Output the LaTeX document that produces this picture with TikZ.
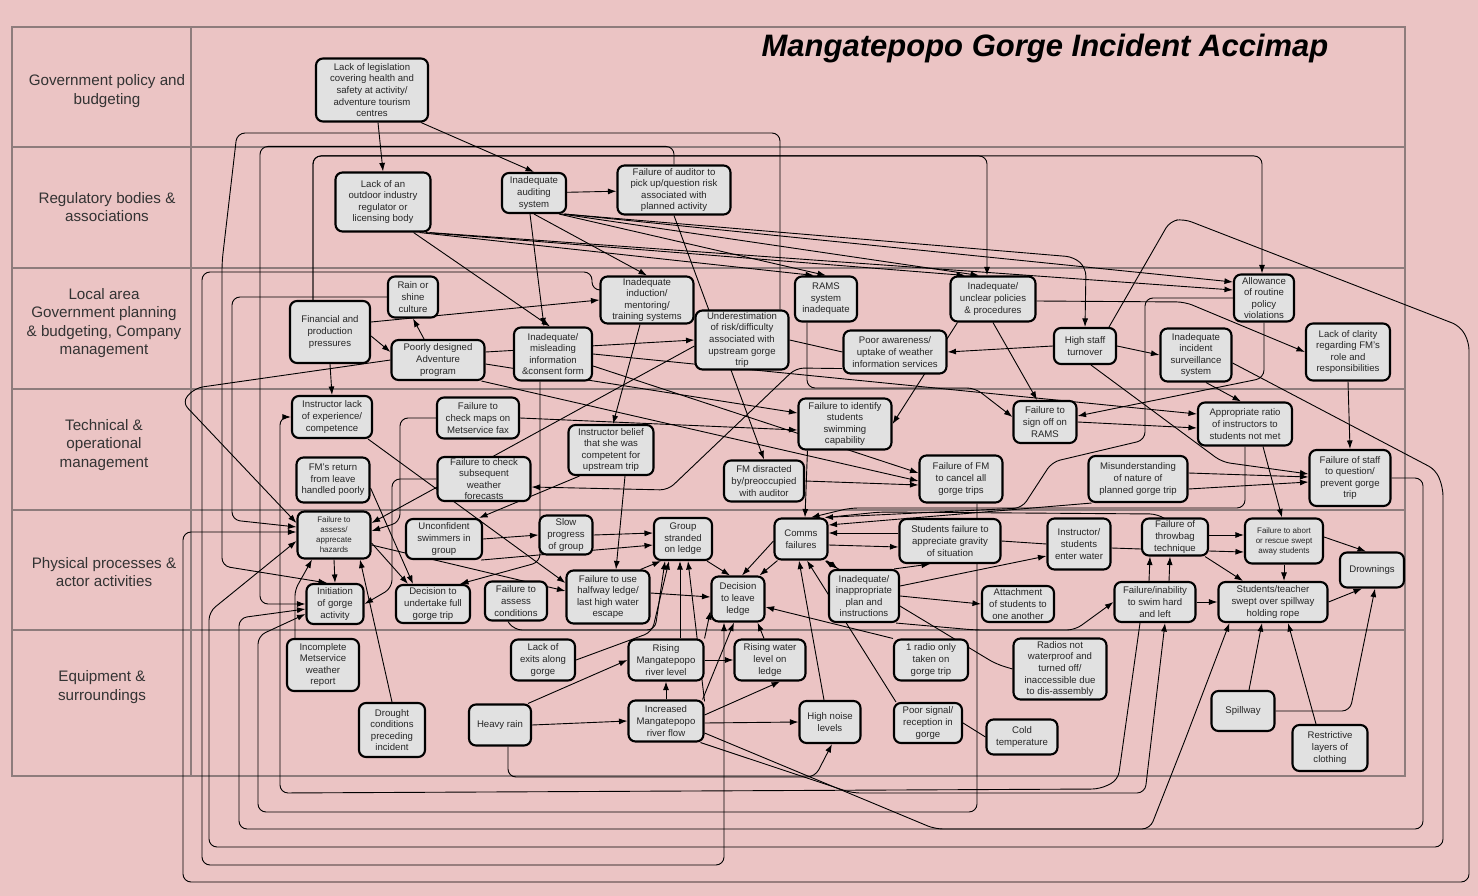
\documentclass[tikz,border=0pt]{standalone}
\usepackage{fontspec}
\setmainfont{Liberation Sans}
\usetikzlibrary{arrows.meta,calc}
\definecolor{cPage}{HTML}{EBC4C4}
\definecolor{cGrid}{HTML}{8E7C7C}
\definecolor{cBox}{HTML}{E1E1E1}
\pgfdeclarelayer{paper}
\pgfdeclarelayer{wires}
\pgfsetlayers{paper,wires,main}

\begin{document}
\begin{tikzpicture}[
    x=1pt, y=-1pt,
    font=\fontsize{9.6}{11.6}\selectfont,
    >={Latex[length=8.5pt,width=6pt]},
    every node/.style={align=center},
    box/.style={draw, line width=2.1pt, rounded corners=7pt, fill=cBox,
                inner sep=1pt, text=black!85},
    lane/.style={font=\fontsize{15.2}{18.3}\selectfont, text=black!80},
    link/.style={->, line width=0.9pt},
    wire/.style={line width=0.9pt},
]
\useasboundingbox (0,0) rectangle (1478,896);

% ---- paper and swim lanes ----
\begin{pgfonlayer}{paper}
\fill[cPage] (0,0) rectangle (1478,896);
\draw[cGrid, line width=1.8pt] (12,27) rectangle (1405,776);
\draw[cGrid, line width=1.8pt] (191,27) -- (191,776);
\foreach \y in {147,268,389,510,630}{
  \draw[cGrid, line width=1.8pt] (12,\y) -- (1405,\y);
}
\end{pgfonlayer}

\node[font=\bfseries\itshape\fontsize{31}{36}\selectfont] (title) at (1045,48)
      {Mangatepopo Gorge Incident Accimap};

\node[lane] (lane1) at (107,91) {Government policy and\\budgeting};
\node[lane] (lane2) at (107,207) {Regulatory bodies \&\\associations};
\node[lane] (lane3) at (104,323) {Local area\\Government planning\\\& budgeting, Company\\management};
\node[lane] (lane4) at (104,445) {Technical \&\\operational\\management};
\node[lane] (lane5) at (104,572) {Physical processes \&\\actor activities};
\node[lane] (lane6) at (102,687) {Equipment \&\\surroundings};

% ---- government and regulators ----
\node[box, minimum width=112pt, minimum height=63pt] (leg) at (372,90)
      {Lack of legislation\\covering health and\\safety at activity/\\adventure tourism\\centres};
\node[box, minimum width=95pt, minimum height=59pt] (reg) at (383,202)
      {Lack of an\\outdoor industry\\regulator or\\licensing body};
\node[box, minimum width=64pt, minimum height=40pt] (aud) at (534,193)
      {Inadequate\\auditing\\system};
\node[box, minimum width=113pt, minimum height=49pt] (audf) at (674,190)
      {Failure of auditor to\\pick up/question risk\\associated with\\planned activity};

% ---- local area / company ----
\node[box, minimum width=80pt, minimum height=62pt] (fin) at (330,332)
      {Financial and\\production\\pressures};
\node[box, minimum width=50pt, minimum height=41pt] (rainc) at (413,297)
      {Rain or\\shine\\culture};
\node[box, minimum width=93pt, minimum height=40pt] (poor) at (438,360)
      {Poorly designed\\Adventure\\program};
\node[box, minimum width=93pt, minimum height=47pt] (ind) at (647,300)
      {Inadequate\\induction/\\mentoring/\\training systems};
\node[box, minimum width=78pt, minimum height=53pt] (misl) at (553,354)
      {Inadequate/\\misleading\\information\\\&consent form};
\node[box, minimum width=93pt, minimum height=59pt] (under) at (742,340)
      {Underestimation\\of risk/difficulty\\associated with\\upstream gorge\\trip};
\node[box, minimum width=62pt, minimum height=45pt] (rams) at (826,299)
      {RAMS\\system\\inadequate};
\node[box, minimum width=103pt, minimum height=43pt] (weath) at (895,352)
      {Poor awareness/\\uptake of weather\\information services};
\node[box, minimum width=85pt, minimum height=45pt] (pol) at (993,299)
      {Inadequate/\\unclear policies\\\& procedures};
\node[box, minimum width=62pt, minimum height=36pt] (staff) at (1085,346)
      {High staff\\turnover};
\node[box, minimum width=71pt, minimum height=53pt] (surv) at (1196,355)
      {Inadequate\\incident\\surveillance\\system};
\node[box, minimum width=60pt, minimum height=47pt] (allow) at (1264,298)
      {Allowance\\of routine\\policy\\violations};
\node[box, minimum width=84pt, minimum height=57pt] (clar) at (1348,352)
      {Lack of clarity\\regarding FM's\\role and\\responsibilities};

% ---- technical / operational ----
\node[box, minimum width=80pt, minimum height=42pt] (exp) at (332,417)
      {Instructor lack\\of experience/\\competence};
\node[box, minimum width=82pt, minimum height=41pt] (maps) at (478,418)
      {Failure to\\check maps on\\Metservice fax};
\node[box, minimum width=85pt, minimum height=50pt] (belief) at (611,450)
      {Instructor belief\\that she was\\competent for\\upstream trip};
\node[box, minimum width=93pt, minimum height=51pt] (swim) at (845,424)
      {Failure to identify\\students\\swimming\\capability};
\node[box, minimum width=63pt, minimum height=42pt] (sign) at (1045,422)
      {Failure to\\sign off on\\RAMS};
\node[box, minimum width=94pt, minimum height=43pt] (ratio) at (1245,424)
      {Appropriate ratio\\of instructors to\\students not met};
\node[box, minimum width=73pt, minimum height=45pt] (fmret) at (333,480)
      {FM's return\\from leave\\handled poorly};
\node[box, minimum width=93pt, minimum height=44pt] (subs) at (484,479)
      {Failure to check\\subsequent\\weather\\forecasts};
\node[box, minimum width=80pt, minimum height=41pt] (fmdis) at (764,481)
      {FM disracted\\by/preoccupied\\with auditor};
\node[box, minimum width=83pt, minimum height=47pt] (fmcan) at (961,479)
      {Failure of FM\\to cancel all\\gorge trips};
\node[box, minimum width=99pt, minimum height=46pt] (misu) at (1138,479)
      {Misunderstanding\\of nature of\\planned gorge trip};
\node[box, minimum width=81pt, minimum height=56pt] (quest) at (1350,478)
      {Failure of staff\\to question/\\prevent gorge\\trip};

% ---- physical processes ----
\node[box, minimum width=73pt, minimum height=47pt,
      font=\fontsize{8}{10}\selectfont] (assess) at (334,535)
      {Failure to\\assess/\\apprecate\\hazards};
\node[box, minimum width=76pt, minimum height=40pt] (uncon) at (444,539)
      {Unconfident\\swimmers in\\group};
\node[box, minimum width=53pt, minimum height=39pt] (slow) at (566,535)
      {Slow\\progress\\of group};
\node[box, minimum width=58pt, minimum height=42pt] (strand) at (683,539)
      {Group\\stranded\\on ledge};
\node[box, minimum width=53pt, minimum height=41pt] (comms) at (801,539)
      {Comms\\failures};
\node[box, minimum width=101pt, minimum height=44pt] (grav) at (950,541)
      {Students failure to\\appreciate gravity\\of situation};
\node[box, minimum width=63pt, minimum height=51pt] (enter) at (1079,544)
      {Instructor/\\students\\enter water};
\node[box, minimum width=66pt, minimum height=37pt] (throw) at (1175,537)
      {Failure of\\throwbag\\technique};
\node[box, minimum width=78pt, minimum height=45pt,
      font=\fontsize{8}{10}\selectfont] (abort) at (1284,541)
      {Failure to abort\\or rescue swept\\away students};
\node[box, minimum width=64pt, minimum height=35pt] (drown) at (1372,570)
      {Drownings};
\node[box, minimum width=57pt, minimum height=40pt] (init) at (335,604)
      {Initiation\\of gorge\\activity};
\node[box, minimum width=74pt, minimum height=38pt] (dec) at (433,604)
      {Decision to\\undertake full\\gorge trip};
\node[box, minimum width=62pt, minimum height=39pt] (fassc) at (516,601)
      {Failure to\\assess\\conditions};
\node[box, minimum width=83pt, minimum height=53pt] (half) at (608,597)
      {Failure to use\\halfway ledge/\\last high water\\escape};
\node[box, minimum width=53pt, minimum height=45pt] (leave) at (738,599)
      {Decision\\to leave\\ledge};
\node[box, minimum width=70pt, minimum height=52pt] (plan) at (864,596)
      {Inadequate/\\inappropriate\\plan and\\instructions};
\node[box, minimum width=72pt, minimum height=36pt] (attach) at (1018,604)
      {Attachment\\of students to\\one another};
\node[box, minimum width=81pt, minimum height=40pt] (fswim) at (1155,602)
      {Failure/inability\\to swim hard\\and left};
\node[box, minimum width=109pt, minimum height=40pt] (swept) at (1273,602)
      {Students/teacher\\swept over spillway\\holding rope};

% ---- equipment and surroundings ----
\node[box, minimum width=72pt, minimum height=52pt] (incmet) at (323,665)
      {Incomplete\\Metservice\\weather\\report};
\node[box, minimum width=64pt, minimum height=41pt] (exits) at (543,660)
      {Lack of\\exits along\\gorge};
\node[box, minimum width=75pt, minimum height=41pt] (river) at (666,660)
      {Rising\\Mangatepopo\\river level};
\node[box, minimum width=71pt, minimum height=41pt] (wlevel) at (770,660)
      {Rising water\\level on\\ledge};
\node[box, minimum width=74pt, minimum height=41pt] (radio) at (931,660)
      {1 radio only\\taken on\\gorge trip};
\node[box, minimum width=93pt, minimum height=61pt] (radios) at (1060,669)
      {Radios not\\waterproof and\\turned off/\\inaccessible due\\to dis-assembly};
\node[box, minimum width=66pt, minimum height=54pt] (drought) at (392,730)
      {Drought\\conditions\\preceding\\incident};
\node[box, minimum width=62pt, minimum height=41pt] (hrain) at (500,725)
      {Heavy rain};
\node[box, minimum width=75pt, minimum height=41pt] (flow) at (666,721)
      {Increased\\Mangatepopo\\river flow};
\node[box, minimum width=61pt, minimum height=42pt] (noise) at (830,722)
      {High noise\\levels};
\node[box, minimum width=68pt, minimum height=40pt] (signal) at (928,723)
      {Poor signal/\\reception in\\gorge};
\node[box, minimum width=71pt, minimum height=35pt] (cold) at (1022,737)
      {Cold\\temperature};
\node[box, minimum width=63pt, minimum height=40pt] (spill) at (1243,711)
      {Spillway};
\node[box, minimum width=75pt, minimum height=46pt] (cloth) at (1330,748)
      {Restrictive\\layers of\\clothing};

\begin{pgfonlayer}{wires}
% ---- arrows: government and regulators ----
\draw[link] ($(leg.south)+(6,0)$) -- (reg.north);
\draw[link] ($(leg.south east)+(-8,0)$) -- (aud.north);
\draw[link] (aud) -- (audf);
\draw[link] ($(reg.south east)+(-18,0)$) -- ($(misl.north)+(-3,0)$);
\draw[link] ($(reg.south east)+(-12,0)$) -- ($(rams.north)+(-12,0)$);
\draw[link] ($(reg.south east)+(-6,0)$) -- ($(pol.north)+(-28,0)$);
\draw[link] ($(reg.south east)+(-2,0)$) -- ($(allow.west)+(0,-8)$);
\draw[link] ($(aud.south)+(-4,0)$) -- ($(misl.north)+(-9,0)$);
\draw[link] (aud.south) -- (ind.north);
\draw[link] ($(aud.south east)+(-8,0)$) -- (rams.north);
\draw[link] ($(aud.south east)+(-5,0)$) -- ($(pol.north)+(-14,0)$);
\draw[link] ($(aud.south east)+(-2,0)$) -- ($(allow.west)+(0,-16)$);
\draw[link, rounded corners=8pt] ($(aud.south east)+(-3,0)$) -- (1074,257) -- (1086,268) -- (staff.north);
\draw[link, rounded corners=8pt] ($(fin.north)+(-17,0)$) -- ++(0,-144) -| ($(pol.north)+(-6,0)$);
\draw[link, rounded corners=8pt] ($(fin.north)+(-17,0)$) -- ++(0,-144) -| ($(allow.north)+(-2,0)$);
\draw[link, rounded corners=8pt] (audf.north) -- ++(0,-18) -| (260,604) -- (init.west);
\draw[link, rounded corners=8pt] ($(under.north)+(38,0)$) |- (237,133) -- (222,262) -- (222,566) -- ($(init.north)+(-8,0)$);

% ---- arrows: long loops round the lanes ----
\draw[link, rounded corners=8pt] ($(ind.west)+(0,-10)$) -- (592,290) |- (202,272) -- (202,865) -| ($(leave.south)+(-14,0)$);
\draw[link, rounded corners=8pt] ($(staff.north east)+(-8,0)$) -- (1170,221) -- (1184,219) -- (1460,326) -- (1469,342) -- (1469,882) -| (183,532) -- ($(assess.west)+(0,-3)$);
\draw[link, rounded corners=8pt] ($(surv.east)+(0,8)$) -- (1436,470) -- (1443,488) -- (1443,847) -| (209,612) -- ($(assess.west)+(0,6)$);
\draw[link, rounded corners=8pt] (quest.east) -| (1423,829) -| (239,618) -- ($(init.west)+(0,5)$);
\draw[link, rounded corners=8pt] ($(fmcan.south)+(16,0)$) |- (258,812) -- (258,636) -- ($(init.west)+(0,10)$);
\draw[link, rounded corners=8pt] ($(fswim.south)+(-15,0)$) -- (1118,780) -- (1100,789) -- (280,793) |- (exp.west);
\draw[link, rounded corners=8pt] ($(flow.south east)+(-4,0)$) -- (852,793) -- (1145,793) -- ($(fswim.south)+(10,0)$);
\draw[link, rounded corners=8pt] ($(flow.east)+(0,12)$) -- (935,829) -- (1150,829) -- (1185,740) -- ($(swept.south west)+(12,0)$);
\draw[link, rounded corners=8pt] (rainc.west) -| (232,520) -- ($(assess.west)+(0,-8)$);
\draw[link, rounded corners=8pt] (poor.west) -- (195,388) -- (182,402) -- ($(assess.west)+(0,-12)$);
\draw[link, rounded corners=8pt] (maps.west) -| (400,522) -- ($(assess.east)+(0,-4)$);
\draw[link, rounded corners=8pt] (subs.west) -| (392,588) -- (init.east);

% ---- arrows: local area ----
\draw[link] ($(fin.east)+(0,-10)$) -- (ind.west);
\draw[link] ($(fin.east)+(0,4)$) -- ($(poor.west)+(0,-8)$);
\draw[link] ($(poor.north)+(-14,0)$) -- (rainc.south);
\draw[link] ($(poor.east)+(0,-8)$) -- (under.west);
\draw[link] ($(poor.east)+(0,4)$) -- ($(swim.west)+(0,-11)$);
\draw[link] ($(poor.south east)+(-4,0)$) -- ($(fmcan.west)+(0,2)$);
\draw[link] (misl.east) -- ($(ratio.west)+(0,-10)$);
\draw[link] ($(misl.east)+(0,12)$) -- ($(fmcan.west)+(0,-6)$);
\draw[link, rounded corners=8pt] ($(misl.south)+(-13,0)$) -- (540,562) -- ($(dec.north)+(27,0)$);
\draw[link] ($(under.west)+(0,6)$) -- ($(assess.east)+(0,-12)$);
\draw[wire] (weath.west) -- (under.east);
\draw[link] (staff.west) -- (weath.east);
\draw[link] (staff.east) -- (surv.west);
\draw[link, rounded corners=8pt] ($(staff.south)+(6,0)$) -- (1222,462) -- ($(quest.west)+(0,-4)$);
\draw[link, rounded corners=8pt] ($(rams.south)+(-19,0)$) |- (975,388) -- ($(sign.west)+(0,-5)$);
\draw[link] (pol.south) -- ($(sign.north)+(-8,0)$);
\draw[link, rounded corners=8pt] ($(pol.east)+(0,2)$) -- (1185,302) -- (clar.west);
\draw[link] ($(pol.south west)+(8,0)$) -- (swim.east);
\draw[link, rounded corners=8pt] (allow.south) -- (1264,378) -- ($(sign.east)+(0,-6)$);
\draw[link, rounded corners=8pt] (allow.west) -| (1145,440) -- (1052,462) -- (1022,508) -- ($(comms.north east)+(-4,0)$);
\draw[link] (clar.south) -- (quest.north);
\draw[link] ($(surv.south)+(10,0)$) -- ($(ratio.north)+(-4,0)$);

% ---- arrows: technical and operational ----
\draw[link] (sign.east) -- ($(ratio.west)+(0,4)$);
\draw[link] ($(ratio.south)+(18,0)$) -- ($(abort.north)+(-2,0)$);
\draw[link, rounded corners=8pt] (ratio.south) |- (850,508) -- ($(comms.north)+(10,0)$);
\draw[link] ($(misu.east)+(0,-6)$) -- ($(quest.west)+(0,-1)$);
\draw[link] ($(misu.east)+(0,10)$) -- ($(quest.west)+(0,4)$);
\draw[link] ($(misu.south west)+(4,0)$) -- ($(comms.east)+(0,-14)$);
\draw[link] (fmdis.east) -- ($(fmcan.west)+(0,6)$);
\draw[link] (audf.south) -- (fmdis.north);
\draw[link, rounded corners=8pt] ($(weath.south west)+(0,-6)$) -- (796,368) -- (668,490) -- ($(subs.east)+(0,8)$);
\draw[link] (maps.east) -- ($(swim.west)+(0,6)$);
\draw[link] ($(exp.south east)+(-5,0)$) -- ($(half.west)+(0,-14)$);
\draw[link] (fin.south) -- (exp.north);
\draw[link] ($(fmret.east)+(0,8)$) -- ($(dec.north)+(-20,0)$);
\draw[link] ($(ind.south)+(-7,0)$) -- ($(belief.north)+(2,0)$);
\draw[link] ($(belief.south west)+(12,0)$) -- ($(uncon.north east)+(-4,0)$);
\draw[link] ($(belief.south)+(14,0)$) -- ($(half.north)+(8,0)$);
\draw[link] ($(swim.south west)+(10,0)$) -- ($(comms.north)+(4,0)$);

% ---- arrows: physical processes ----
\draw[link] (assess.south) -- (init.north);
\draw[link] ($(assess.east)+(0,8)$) -- ($(dec.north)+(-25,0)$);
\draw[link] ($(assess.east)+(0,10)$) -- ($(half.west)+(0,-6)$);
\draw[link, rounded corners=6pt] ($(incmet.north)+(-28,0)$) -- (295,590) -- ($(assess.south)+(-22,0)$);
\draw[link] (drought.north) -- ($(assess.south)+(26,0)$);
\draw[link] (uncon.east) -- (slow.west);
\draw[link] (slow.east) -- ($(strand.west)+(0,-6)$);
\draw[link] ($(uncon.south east)+(-2,0)$) -- ($(strand.west)+(0,6)$);
\draw[link] ($(half.north east)+(-10,0)$) -- ($(strand.south west)+(8,0)$);
\draw[link, rounded corners=8pt] ($(fassc.south)+(-8,0)$) -- (514,630) -- (655,630) -- ($(strand.south)+(-18,0)$);
\draw[link, rounded corners=8pt] (exits.east) -- (652,632) -- ($(strand.south)+(-14,0)$);
\draw[link] ($(strand.south east)+(-6,0)$) -- ($(leave.north)+(-8,0)$);
\draw[link] ($(half.east)+(0,-4)$) -- ($(leave.west)+(0,-2)$);
\draw[link] ($(comms.west)+(0,2)$) -- ($(leave.north)+(4,0)$);
\draw[link] ($(comms.south west)+(4,0)$) -- ($(leave.north east)+(-6,0)$);
\draw[link] ($(comms.south east)+(-2,0)$) -- ($(plan.north west)+(10,0)$);
\draw[link] ($(grav.west)+(0,-8)$) -- ($(comms.east)+(0,-6)$);
\draw[link] ($(comms.east)+(0,6)$) -- ($(grav.west)+(0,6)$);
\draw[link] ($(plan.north east)+(-6,0)$) -- ($(grav.south)+(-20,0)$);
\draw[link] (plan.east) -- (attach.west);
\draw[link] ($(plan.east)+(0,-10)$) -- ($(enter.west)+(0,12)$);
\draw[wire] (grav.east) -- (enter.west);
\draw[wire] ($(enter.east)+(0,4)$) -- ($(throw.west)+(0,12)$);
\draw[link, rounded corners=8pt] ($(comms.north east)+(-2,0)$) -- (880,512) -- (1158,514) -- ($(throw.north)+(-12,0)$);
\draw[link, rounded corners=8pt] ($(plan.south east)+(-4,0)$) -- (975,630) -- (1075,630) -- (fswim.west);
\draw[link] ($(throw.east)+(0,-2)$) -- ($(abort.west)+(0,-6)$);
\draw[link] ($(throw.east)+(0,14)$) -- ($(abort.west)+(0,11)$);
\draw[link] ($(throw.south east)+(-4,0)$) -- ($(swept.north)+(-30,0)$);
\draw[link] ($(fswim.north)+(-6,0)$) -- ($(throw.south)+(-25,0)$);
\draw[link] ($(fswim.north)+(14,0)$) -- ($(throw.south)+(-5,0)$);
\draw[link] (fswim.east) -- (swept.west);
\draw[link] (abort.south) -- ($(swept.north)+(11,0)$);
\draw[link] ($(abort.east)+(0,-4)$) -- ($(drown.north)+(-6,0)$);
\draw[link] (swept.east) -- ($(drown.south)+(-10,0)$);

% ---- arrows: equipment and surroundings ----
\draw[link] ($(river.north)+(14,0)$) -- ($(strand.south)+(-3,0)$);
\draw[link] (river.north east) -- ($(leave.west)+(0,12)$);
\draw[link] (river.east) -- (wlevel.west);
\draw[link] (flow.north) -- (river.south);
\draw[link] ($(flow.east)+(0,-6)$) -- ($(wlevel.south)+(10,0)$);
\draw[link] ($(flow.east)+(0,2)$) -- (noise.west);
\draw[link] ($(flow.north east)+(0,2)$) -- ($(strand.south)+(5,0)$);
\draw[link] ($(flow.north east)+(-2,0)$) -- ($(leave.south)+(-4,0)$);
\draw[link] (hrain.east) -- (flow.west);
\draw[link] ($(hrain.north east)+(-4,0)$) -- (river.west);
\draw[link, rounded corners=8pt] ($(hrain.south)+(8,0)$) |- (815,777) -- ($(noise.south)+(2,0)$);
\draw[link] ($(wlevel.north)+(-6,0)$) -- ($(leave.south east)+(-8,0)$);
\draw[link] ($(noise.north)+(-6,0)$) -- ($(comms.south)+(-2,0)$);
\draw[link] ($(signal.north west)+(3,0)$) -- ($(comms.south)+(6,0)$);
\draw[link] (radio.north west) -- ($(leave.east)+(0,8)$);
\draw[link, rounded corners=8pt] (radios.west) -- (996,664) -- ($(comms.south east)+(-4,0)$);
\draw[wire] (cold.west) -- (signal.east);
\draw[link] ($(spill.north)+(6,0)$) -- ($(swept.south)+(-11,0)$);
\draw[link, rounded corners=8pt] (spill.east) -- (1350,711) -- ($(drown.south)+(3,0)$);
\draw[link] ($(cloth.north)+(-14,0)$) -- ($(swept.south)+(15,0)$);
\end{pgfonlayer}

\end{tikzpicture}
\end{document}
